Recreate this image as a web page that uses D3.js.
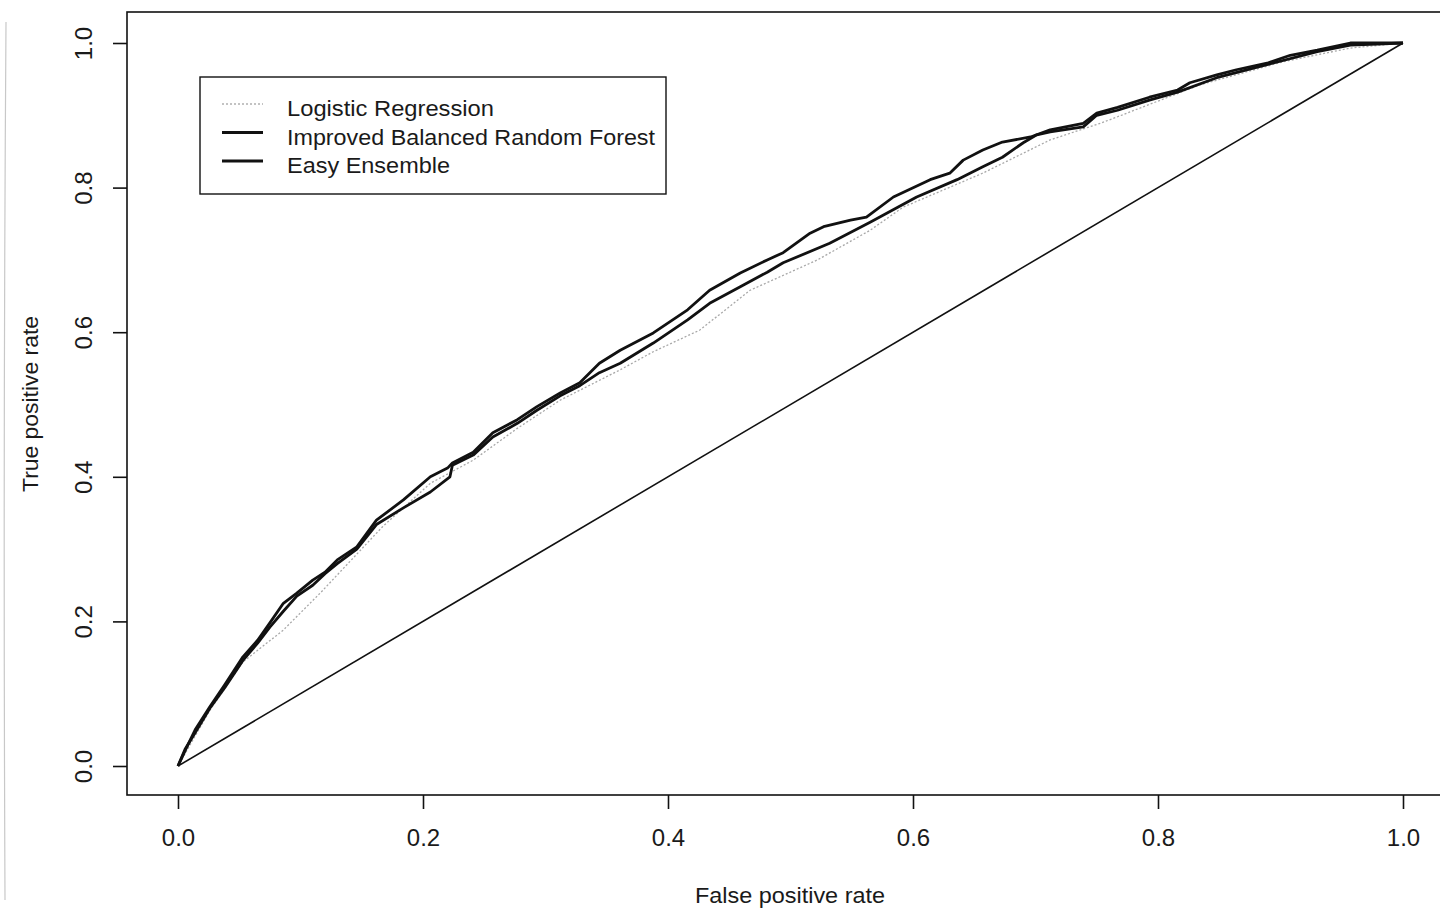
<!DOCTYPE html>
<html>
<head>
<meta charset="utf-8">
<script src="https://cdn.jsdelivr.net/npm/d3@7"></script>
<style>
  body { margin: 0; background: #fff; }
  text { font-family: "Liberation Sans", Arial, sans-serif; fill: #1a1a1a; }
</style>
</head>
<body>
<script>
// series (false positive rate, true positive rate)
const lrFpr = [0, 0.026, 0.053, 0.086, 0.116, 0.167, 0.206, 0.241, 0.277, 0.312, 0.361, 0.388, 0.426, 0.467, 0.522, 0.565, 0.592, 0.657, 0.712, 0.753, 0.767, 0.834, 0.902, 0.957, 1];
const lrTpr = [0, 0.077, 0.144, 0.188, 0.239, 0.331, 0.391, 0.423, 0.467, 0.506, 0.548, 0.573, 0.603, 0.658, 0.700, 0.741, 0.773, 0.820, 0.866, 0.889, 0.898, 0.942, 0.974, 0.993, 1];

const ibrfFpr = [0, 0.006, 0.014, 0.026, 0.038, 0.053, 0.065, 0.075, 0.086, 0.097, 0.110, 0.120, 0.130, 0.146, 0.162, 0.184, 0.206, 0.220, 0.224, 0.241, 0.257, 0.277, 0.293, 0.312, 0.328, 0.344, 0.361, 0.388, 0.416, 0.434, 0.459, 0.481, 0.494, 0.516, 0.527, 0.549, 0.562, 0.584, 0.614, 0.630, 0.641, 0.657, 0.673, 0.696, 0.712, 0.739, 0.750, 0.767, 0.793, 0.816, 0.826, 0.848, 0.864, 0.889, 0.908, 0.930, 0.957, 1];
const ibrfTpr = [0, 0.022, 0.050, 0.082, 0.112, 0.151, 0.174, 0.198, 0.225, 0.239, 0.257, 0.268, 0.285, 0.303, 0.340, 0.368, 0.400, 0.412, 0.419, 0.434, 0.461, 0.479, 0.497, 0.516, 0.530, 0.557, 0.575, 0.599, 0.631, 0.658, 0.682, 0.700, 0.710, 0.737, 0.746, 0.755, 0.759, 0.787, 0.811, 0.820, 0.838, 0.852, 0.863, 0.870, 0.880, 0.889, 0.903, 0.911, 0.925, 0.935, 0.945, 0.956, 0.963, 0.972, 0.983, 0.990, 1, 1];

const eeFpr = [0, 0.006, 0.014, 0.026, 0.038, 0.053, 0.065, 0.075, 0.086, 0.097, 0.110, 0.120, 0.130, 0.146, 0.162, 0.184, 0.206, 0.222, 0.224, 0.241, 0.257, 0.277, 0.293, 0.312, 0.328, 0.344, 0.361, 0.388, 0.416, 0.434, 0.459, 0.481, 0.494, 0.532, 0.565, 0.603, 0.636, 0.657, 0.673, 0.690, 0.701, 0.712, 0.739, 0.750, 0.767, 0.793, 0.816, 0.848, 0.889, 0.930, 0.957, 1];
const eeTpr = [0, 0.024, 0.046, 0.080, 0.108, 0.146, 0.170, 0.192, 0.214, 0.235, 0.250, 0.266, 0.280, 0.300, 0.334, 0.357, 0.379, 0.400, 0.416, 0.430, 0.455, 0.474, 0.492, 0.512, 0.526, 0.544, 0.557, 0.585, 0.617, 0.640, 0.663, 0.683, 0.696, 0.723, 0.752, 0.787, 0.811, 0.829, 0.842, 0.862, 0.873, 0.877, 0.884, 0.900, 0.907, 0.921, 0.932, 0.952, 0.970, 0.988, 0.997, 1];

const chanceFpr = [0, 1];
const chanceTpr = [0, 1];

const tickValues = [0, 0.2, 0.4, 0.6, 0.8, 1.0];
const tickLabels = ["0.0", "0.2", "0.4", "0.6", "0.8", "1.0"];
const legendLabels = ["Logistic Regression", "Improved Balanced Random Forest", "Easy Ensemble"];
const legendWidths = [207, 368, 163];

const W = 1440, H = 909;
const frame = { left: 127, top: 12, bottom: 795, right: 1450 };

const svg = d3.select("body").append("svg")
  .attr("width", W)
  .attr("height", H);

const x = d3.scaleLinear().domain([0, 1]).range([178, 1403]);
const y = d3.scaleLinear().domain([0, 1]).range([766, 43]);

// faint scan edge on the far left
svg.append("path")
  .attr("d", "M6,22 Q3,460 5,900")
  .attr("fill", "none")
  .attr("stroke", "#c8c8c8")
  .attr("stroke-width", 1.2);

// plot frame
svg.append("rect")
  .attr("x", frame.left)
  .attr("y", frame.top)
  .attr("width", frame.right - frame.left)
  .attr("height", frame.bottom - frame.top)
  .attr("fill", "none")
  .attr("stroke", "#111")
  .attr("stroke-width", 1.6);

// bottom axis
const axisB = svg.append("g")
  .attr("transform", `translate(0, ${frame.bottom})`)
  .call(d3.axisBottom(x).tickValues(tickValues).tickSize(14).tickSizeOuter(0)
    .tickFormat((d, i) => tickLabels[i]));
axisB.select(".domain").remove();
axisB.selectAll("line").attr("stroke", "#111").attr("stroke-width", 1.6);
axisB.selectAll("text")
  .attr("y", 34)
  .attr("dy", "0.7em")
  .style("font-size", "24px")
  .style("font-family", "Liberation Sans, Arial, sans-serif")
  .attr("fill", "#222");

// left axis
const axisL = svg.append("g")
  .attr("transform", `translate(${frame.left}, 0)`)
  .call(d3.axisLeft(y).tickValues(tickValues).tickSize(14).tickSizeOuter(0)
    .tickFormat((d, i) => tickLabels[i]));
axisL.select(".domain").remove();
axisL.selectAll("line").attr("stroke", "#111").attr("stroke-width", 1.6);
axisL.selectAll("text")
  .attr("x", 0)
  .attr("dy", null)
  .attr("transform", "translate(-44,0) rotate(-90)")
  .attr("text-anchor", "middle")
  .attr("dominant-baseline", "central")
  .style("font-size", "24px")
  .style("font-family", "Liberation Sans, Arial, sans-serif")
  .attr("fill", "#222");

// axis titles
svg.append("text")
  .attr("x", 695)
  .attr("y", 903)
  .attr("textLength", 190)
  .attr("lengthAdjust", "spacingAndGlyphs")
  .style("font-size", "22px")
  .text("False positive rate");

svg.append("text")
  .attr("transform", "translate(38, 492) rotate(-90)")
  .attr("textLength", 176)
  .attr("lengthAdjust", "spacingAndGlyphs")
  .style("font-size", "22px")
  .text("True positive rate");

const line = d3.line()
  .x(d => x(d[0]))
  .y(d => y(d[1]));

const zipPts = (a, b) => a.map((v, i) => [v, b[i]]);

// chance diagonal
svg.append("path")
  .datum(zipPts(chanceFpr, chanceTpr))
  .attr("fill", "none")
  .attr("stroke", "#111")
  .attr("stroke-width", 1.6)
  .attr("d", line);

// logistic regression (light dotted grey)
svg.append("path")
  .datum(zipPts(lrFpr, lrTpr))
  .attr("fill", "none")
  .attr("stroke", "#a8a8a8")
  .attr("stroke-width", 1.3)
  .attr("stroke-dasharray", "2,2")
  .attr("d", line);

// easy ensemble
svg.append("path")
  .datum(zipPts(eeFpr, eeTpr))
  .attr("fill", "none")
  .attr("stroke", "#111")
  .attr("stroke-width", 2.8)
  .attr("stroke-linejoin", "round")
  .attr("d", line);

// improved balanced random forest
svg.append("path")
  .datum(zipPts(ibrfFpr, ibrfTpr))
  .attr("fill", "none")
  .attr("stroke", "#111")
  .attr("stroke-width", 2.8)
  .attr("stroke-linejoin", "round")
  .attr("d", line);

// legend
const lg = svg.append("g");
lg.append("rect")
  .attr("x", 200)
  .attr("y", 77)
  .attr("width", 466)
  .attr("height", 117)
  .attr("fill", "#fff")
  .attr("stroke", "#111")
  .attr("stroke-width", 1.4);

const legendStyles = [
  { stroke: "#b0b0b0", width: 1.3, dash: "2,2" },
  { stroke: "#111", width: 2.8, dash: null },
  { stroke: "#111", width: 2.8, dash: null }
];

lg.selectAll(".lgline")
  .data(legendLabels)
  .enter()
  .append("line")
  .attr("class", "lgline")
  .attr("x1", 222)
  .attr("x2", 263)
  .attr("y1", (d, i) => 104 + i * 28.5)
  .attr("y2", (d, i) => 104 + i * 28.5)
  .attr("stroke", (d, i) => legendStyles[i].stroke)
  .attr("stroke-width", (d, i) => legendStyles[i].width)
  .attr("stroke-dasharray", (d, i) => legendStyles[i].dash);

lg.selectAll(".lgtext")
  .data(legendLabels)
  .enter()
  .append("text")
  .attr("class", "lgtext")
  .attr("x", 287)
  .attr("y", (d, i) => 116 + i * 28.5)
  .attr("textLength", (d, i) => legendWidths[i])
  .attr("lengthAdjust", "spacingAndGlyphs")
  .style("font-size", "22px")
  .text(d => d);
</script>
</body>
</html>
